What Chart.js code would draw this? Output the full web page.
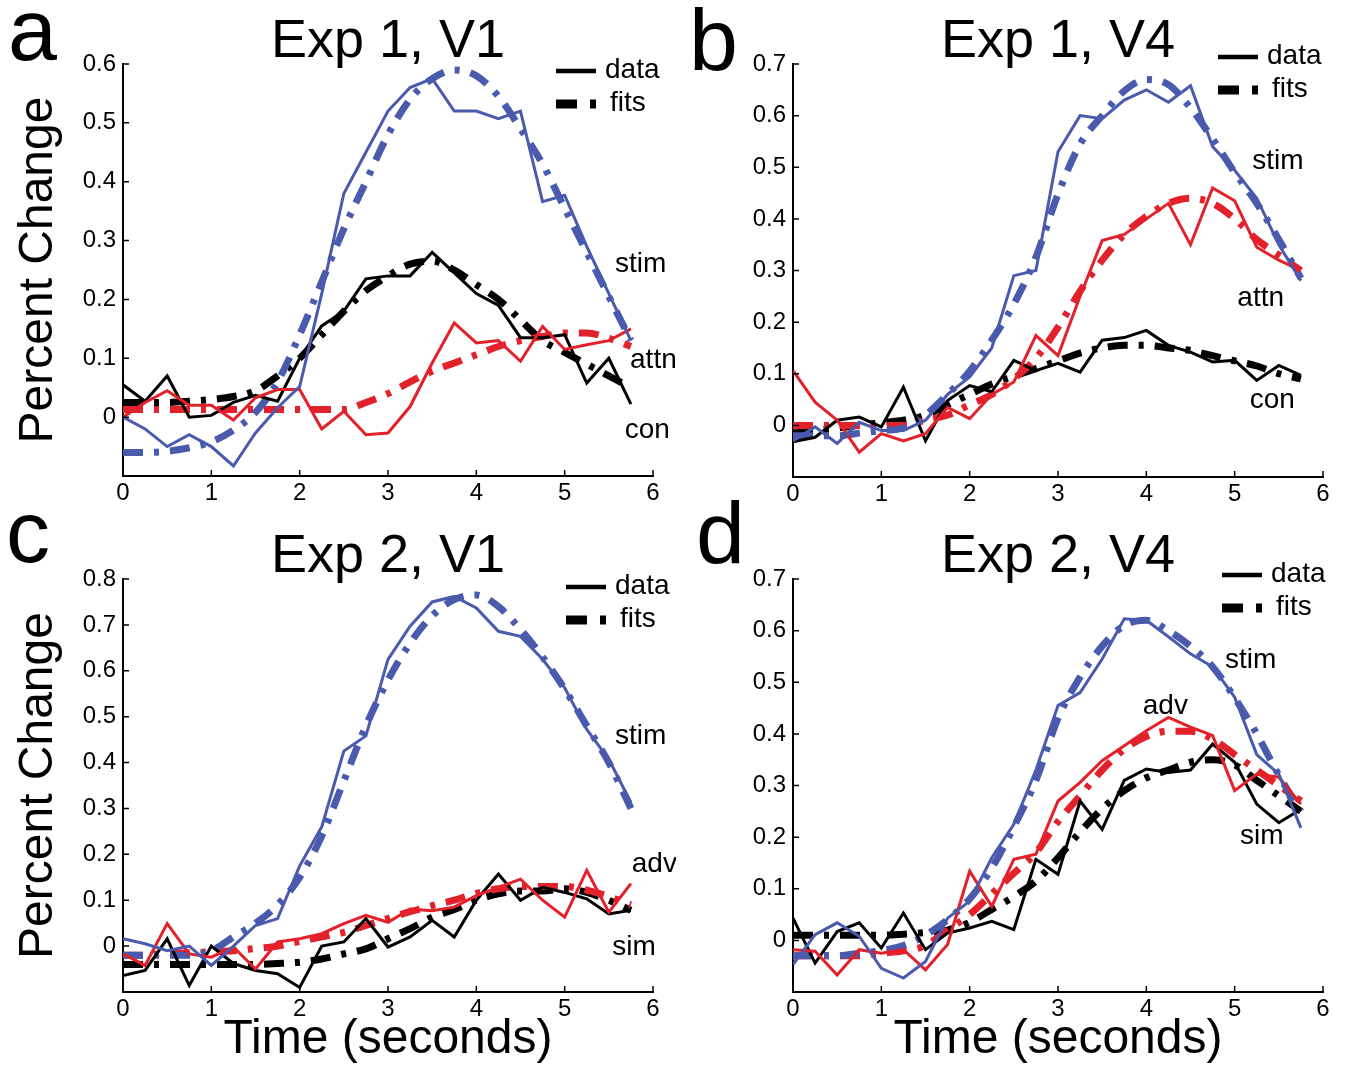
<!DOCTYPE html>
<html>
<head>
<meta charset="utf-8">
<script src="https://cdn.jsdelivr.net/npm/chart.js@4.4.1/dist/chart.umd.min.js"></script>
<style>
html,body{margin:0;padding:0;background:#ffffff;}
#wrap{position:relative;width:1352px;height:1070px;overflow:hidden;background:#ffffff;}
#wrap canvas{position:absolute;}
</style>
</head>
<body>
<div id="wrap">
<canvas id="pa" width="676" height="520" style="left:0px;top:0px"></canvas>
<canvas id="pb" width="676" height="520" style="left:676px;top:0px"></canvas>
<canvas id="pc" width="676" height="570" style="left:0px;top:500px"></canvas>
<canvas id="pd" width="676" height="570" style="left:676px;top:500px"></canvas>
</div>
<script>
// ---------- shared axis data ----------
const timeSec = [0,0.25,0.5,0.75,1,1.25,1.5,1.75,2,2.25,2.5,2.75,3,3.25,3.5,3.75,4,4.25,4.5,4.75,5,5.25,5.5,5.75];
const xTicks = [0,1,2,3,4,5,6];
const yTicksA = [0,0.1,0.2,0.3,0.4,0.5,0.6];
const yTicksB = [0,0.1,0.2,0.3,0.4,0.5,0.6,0.7];
const yTicksC = [0,0.1,0.2,0.3,0.4,0.5,0.6,0.7,0.8];
const yTicksD = [0,0.1,0.2,0.3,0.4,0.5,0.6,0.7];

// ---------- panel a: Exp 1, V1 ----------
const a_stimData = [0.0,-0.02,-0.05,-0.03,-0.05,-0.083,-0.027,0.016,0.052,0.21,0.38,0.45,0.52,0.56,0.575,0.52,0.52,0.507,0.52,0.366,0.377,0.29,0.21,0.13];
const a_stimFit  = [-0.06,-0.06,-0.058,-0.052,-0.042,-0.022,0.008,0.06,0.14,0.23,0.32,0.40,0.48,0.54,0.575,0.59,0.58,0.545,0.49,0.43,0.355,0.28,0.205,0.13];
const a_attnData = [0.0,0.025,0.045,0.02,0.02,-0.005,0.033,0.047,0.047,-0.02,0.01,-0.03,-0.027,0.018,0.092,0.16,0.126,0.13,0.095,0.154,0.115,0.123,0.13,0.15];
const a_attnFit  = [0.013,0.013,0.013,0.013,0.013,0.013,0.013,0.013,0.013,0.013,0.013,0.025,0.04,0.06,0.078,0.092,0.106,0.12,0.13,0.137,0.143,0.143,0.134,0.12];
const a_conData  = [0.055,0.027,0.07,0.0,0.003,0.025,0.037,0.027,0.1,0.155,0.18,0.235,0.24,0.24,0.28,0.245,0.21,0.19,0.135,0.135,0.14,0.058,0.1,0.022];
const a_conFit   = [0.025,0.025,0.025,0.027,0.03,0.035,0.045,0.07,0.1,0.14,0.18,0.215,0.24,0.26,0.265,0.25,0.225,0.2,0.165,0.13,0.11,0.09,0.07,0.05];

// ---------- panel b: Exp 1, V4 ----------
const b_stimData = [-0.03,-0.003,-0.035,0.006,-0.01,-0.01,0.01,0.06,0.094,0.15,0.29,0.3,0.53,0.6,0.594,0.63,0.65,0.626,0.658,0.54,0.494,0.44,0.35,0.28];
const b_stimFit  = [-0.02,-0.02,-0.02,-0.015,-0.01,-0.005,0.02,0.06,0.105,0.165,0.235,0.326,0.448,0.545,0.6,0.648,0.67,0.66,0.615,0.555,0.49,0.43,0.36,0.285];
const b_attnData = [0.106,0.045,0.01,-0.052,-0.016,-0.03,-0.016,0.035,0.013,0.06,0.084,0.174,0.135,0.25,0.358,0.37,0.4,0.43,0.35,0.46,0.435,0.345,0.32,0.3];
const b_attnFit  = [0.0,0.0,0.0,0.0,0.0,0.0,0.01,0.02,0.04,0.06,0.09,0.13,0.19,0.26,0.32,0.37,0.405,0.43,0.44,0.43,0.4,0.36,0.33,0.3];
const b_conData  = [-0.032,-0.023,0.01,0.016,-0.003,0.074,-0.03,0.048,0.077,0.065,0.126,0.106,0.12,0.103,0.165,0.17,0.184,0.155,0.142,0.123,0.126,0.087,0.116,0.097];
const b_conFit   = [-0.015,-0.01,-0.005,0.0,0.005,0.01,0.02,0.04,0.06,0.08,0.095,0.11,0.125,0.14,0.15,0.155,0.155,0.15,0.145,0.135,0.125,0.115,0.1,0.09];

// ---------- panel c: Exp 2, V1 ----------
const c_stimData = [0.016,0.005,-0.01,0.0,-0.042,0.0,0.045,0.06,0.175,0.26,0.425,0.458,0.625,0.697,0.75,0.762,0.737,0.686,0.675,0.625,0.563,0.472,0.407,0.313];
const c_stimFit  = [-0.02,-0.02,-0.02,-0.02,-0.01,0.02,0.05,0.09,0.15,0.24,0.36,0.48,0.58,0.66,0.72,0.755,0.765,0.74,0.69,0.63,0.56,0.48,0.4,0.3];
const c_advData  = [-0.017,-0.042,0.049,-0.017,-0.024,-0.002,-0.05,0.009,0.016,0.027,0.049,0.067,0.052,0.081,0.077,0.085,0.11,0.128,0.146,0.1,0.063,0.165,0.074,0.136];
const c_advFit   = [-0.02,-0.02,-0.015,-0.015,-0.012,-0.01,-0.005,0.0,0.01,0.02,0.03,0.045,0.06,0.075,0.088,0.1,0.115,0.125,0.13,0.13,0.13,0.122,0.108,0.09];
const c_simData  = [-0.064,-0.053,0.016,-0.086,0.0,-0.038,-0.053,-0.06,-0.09,0.0,0.009,0.06,-0.002,0.02,0.056,0.02,0.1,0.157,0.1,0.128,0.117,0.103,0.07,0.078];
const c_simFit   = [-0.04,-0.04,-0.04,-0.04,-0.04,-0.04,-0.04,-0.038,-0.035,-0.028,-0.017,-0.006,0.016,0.038,0.063,0.08,0.1,0.114,0.12,0.12,0.125,0.117,0.1,0.078];

// ---------- panel d: Exp 2, V4 ----------
const d_stimData = [-0.047,0.011,0.034,0.008,-0.054,-0.073,-0.041,0.043,0.076,0.16,0.225,0.33,0.455,0.48,0.545,0.623,0.62,0.588,0.555,0.53,0.471,0.36,0.322,0.218];
const d_stimFit  = [-0.03,-0.03,-0.03,-0.025,-0.02,-0.01,0.01,0.04,0.08,0.14,0.22,0.31,0.43,0.51,0.57,0.61,0.62,0.6,0.57,0.53,0.47,0.4,0.32,0.25];
const d_advData  = [-0.018,-0.021,-0.067,-0.018,-0.025,-0.018,-0.057,-0.008,0.134,0.066,0.157,0.167,0.27,0.306,0.348,0.377,0.406,0.432,0.413,0.397,0.29,0.322,0.316,0.264];
const d_advFit   = [-0.03,-0.03,-0.03,-0.03,-0.025,-0.02,-0.01,0.02,0.05,0.09,0.13,0.17,0.23,0.28,0.33,0.37,0.395,0.405,0.405,0.39,0.36,0.33,0.3,0.27];
const d_simData  = [0.043,-0.044,0.017,0.034,-0.015,0.053,-0.018,0.014,0.024,0.037,0.021,0.157,0.128,0.27,0.215,0.31,0.332,0.325,0.33,0.38,0.345,0.264,0.228,0.254];
const d_simFit   = [0.01,0.01,0.01,0.01,0.01,0.012,0.015,0.02,0.035,0.06,0.085,0.115,0.16,0.21,0.255,0.29,0.315,0.33,0.345,0.35,0.34,0.31,0.28,0.25];

// ---------- styles ----------
const FONT = "'Liberation Sans', Arial, Helvetica, sans-serif";
const BLUE = '#4a5aad';
const RED = '#e3212a';
const BLACK = '#000000';

function pts(arr) { return timeSec.map((t, i) => ({ x: t, y: arr[i] })); }

function dataSet(label, arr, color) {
  return { label: label, data: pts(arr), borderColor: color, borderWidth: 3,
           pointRadius: 0, tension: 0, fill: false, borderJoinStyle: 'miter' };
}
function fitSet(label, arr, color) {
  return { label: label, data: pts(arr), borderColor: color, borderWidth: 7,
           borderDash: [20, 11, 5, 11], borderCapStyle: 'butt', pointRadius: 0,
           cubicInterpolationMode: 'monotone', fill: false };
}

const decor = {
  id: 'decor',
  afterDraw(chart) {
    const c = chart.options.plugins.decor;
    const ctx = chart.ctx;
    const ca = chart.chartArea;
    const xs = chart.scales.x, ys = chart.scales.y;
    ctx.save();
    // inward tick marks
    ctx.strokeStyle = '#000'; ctx.lineWidth = 1.5;
    ctx.beginPath();
    xs.ticks.forEach(t => { const p = xs.getPixelForValue(t.value); ctx.moveTo(p, ca.bottom); ctx.lineTo(p, ca.bottom - 6); });
    ys.ticks.forEach(t => { const p = ys.getPixelForValue(t.value); ctx.moveTo(ca.left, p); ctx.lineTo(ca.left + 6, p); });
    ctx.stroke();
    ctx.fillStyle = '#000';
    // panel letter
    ctx.font = '88px ' + FONT; ctx.textAlign = 'left'; ctx.textBaseline = 'alphabetic';
    ctx.fillText(c.letter, c.letterX, c.letterY);
    // title
    ctx.font = '54px ' + FONT; ctx.textAlign = 'center';
    ctx.fillText(c.title, (ca.left + ca.right) / 2, c.titleY);
    // legend
    const lx = ca.right - c.legRight, y1 = ca.top + c.legTop, y2 = y1 + 33;
    ctx.lineWidth = 4.5; ctx.beginPath(); ctx.moveTo(lx, y1); ctx.lineTo(lx + 40, y1); ctx.stroke();
    ctx.fillRect(lx, y2 - 4.5, 21, 9);
    ctx.fillRect(lx + 34, y2 - 4.5, 6, 9);
    ctx.font = '28px ' + FONT; ctx.textAlign = 'left'; ctx.textBaseline = 'middle';
    ctx.fillText('data', lx + 49, y1 - 1);
    ctx.fillText('fits', lx + 54, y2 - 1);
    // curve labels
    c.labels.forEach(l => {
      ctx.fillText(l.text, xs.getPixelForValue(l.x), ys.getPixelForValue(l.y));
    });
    ctx.restore();
  }
};

function makePanel(id, cfg) {
  const yTickVals = cfg.yTicks;
  new Chart(document.getElementById(id), {
    type: 'line',
    data: { datasets: cfg.datasets },
    options: {
      responsive: false, animation: false, devicePixelRatio: 1,
      layout: { padding: { left: 0, right: cfg.padRight, top: cfg.padTop, bottom: 0 } },
      plugins: {
        legend: { display: false }, tooltip: { enabled: false }, title: { display: false },
        decor: cfg.decor
      },
      scales: {
        x: {
          type: 'linear', min: 0, max: 6,
          grid: { display: false, drawTicks: false },
          border: { display: true, color: '#000', width: 2 },
          afterBuildTicks: s => { s.ticks = xTicks.map(v => ({ value: v })); },
          ticks: { padding: 3, color: '#000', font: { family: FONT, size: 24 }, maxRotation: 0, autoSkip: false,
                   callback: v => String(v) },
          title: { display: cfg.xTitle, text: 'Time (seconds)', color: '#000',
                   font: { family: FONT, size: 48 }, padding: { top: 0, bottom: 1 } },
          afterFit: s => { s.height = cfg.xHeight; }
        },
        y: {
          type: 'linear', min: -0.1, max: cfg.yMax,
          grid: { display: false, drawTicks: false },
          border: { display: true, color: '#000', width: 2 },
          afterBuildTicks: s => { s.ticks = yTickVals.map(v => ({ value: v })); },
          ticks: { padding: 7, color: '#000', font: { family: FONT, size: 24 }, autoSkip: false,
                   callback: v => (Math.abs(v) < 1e-9 ? '0' : v.toFixed(1)) },
          title: { display: cfg.yTitle, text: 'Percent Change', color: '#000',
                   font: { family: FONT, size: 48 }, padding: { top: 10, bottom: 0 } },
          afterFit: s => { s.width = cfg.yWidth; }
        }
      }
    },
    plugins: [decor]
  });
}

makePanel('pa', {
  yMax: 0.6, yTicks: yTicksA, yTitle: true, xTitle: false,
  padRight: 23, padTop: 64, yWidth: 123, xHeight: 44,
  datasets: [
    dataSet('stim data', a_stimData, BLUE), dataSet('attn data', a_attnData, RED), dataSet('con data', a_conData, BLACK),
    fitSet('stim fit', a_stimFit, BLUE), fitSet('attn fit', a_attnFit, RED), fitSet('con fit', a_conFit, BLACK)
  ],
  decor: { letter: 'a', letterX: 8, letterY: 60, title: 'Exp 1, V1', titleY: 57, legRight: 97, legTop: 7,
           labels: [{ text: 'stim', x: 5.57, y: 0.259 }, { text: 'attn', x: 5.74, y: 0.097 }, { text: 'con', x: 5.68, y: -0.022 }] }
});

makePanel('pb', {
  yMax: 0.7, yTicks: yTicksB, yTitle: false, xTitle: false,
  padRight: 29, padTop: 64, yWidth: 117, xHeight: 43,
  datasets: [
    dataSet('stim data', b_stimData, BLUE), dataSet('attn data', b_attnData, RED), dataSet('con data', b_conData, BLACK),
    fitSet('stim fit', b_stimFit, BLUE), fitSet('attn fit', b_attnFit, RED), fitSet('con fit', b_conFit, BLACK)
  ],
  decor: { letter: 'b', letterX: 13, letterY: 70, title: 'Exp 1, V4', titleY: 57, legRight: 105, legTop: -7,
           labels: [{ text: 'stim', x: 5.2, y: 0.512 }, { text: 'attn', x: 5.03, y: 0.247 }, { text: 'con', x: 5.17, y: 0.049 }] }
});

makePanel('pc', {
  yMax: 0.8, yTicks: yTicksC, yTitle: true, xTitle: true,
  padRight: 23, padTop: 79, yWidth: 123, xHeight: 78,
  datasets: [
    dataSet('stim data', c_stimData, BLUE), dataSet('adv data', c_advData, RED), dataSet('sim data', c_simData, BLACK),
    fitSet('stim fit', c_stimFit, BLUE), fitSet('adv fit', c_advFit, RED), fitSet('sim fit', c_simFit, BLACK)
  ],
  decor: { letter: 'c', letterX: 6, letterY: 62, title: 'Exp 2, V1', titleY: 72, legRight: 87, legTop: 8,
           labels: [{ text: 'stim', x: 5.57, y: 0.458 }, { text: 'adv', x: 5.76, y: 0.179 }, { text: 'sim', x: 5.54, y: -0.002 }] }
});

makePanel('pd', {
  yMax: 0.7, yTicks: yTicksD, yTitle: false, xTitle: true,
  padRight: 29, padTop: 79, yWidth: 117, xHeight: 78,
  datasets: [
    dataSet('stim data', d_stimData, BLUE), dataSet('adv data', d_advData, RED), dataSet('sim data', d_simData, BLACK),
    fitSet('stim fit', d_stimFit, BLUE), fitSet('adv fit', d_advFit, RED), fitSet('sim fit', d_simFit, BLACK)
  ],
  decor: { letter: 'd', letterX: 20, letterY: 63, title: 'Exp 2, V4', titleY: 72, legRight: 101, legTop: -4,
           labels: [{ text: 'stim', x: 4.89, y: 0.543 }, { text: 'adv', x: 3.96, y: 0.454 }, { text: 'sim', x: 5.06, y: 0.202 }] }
});
</script>
</body>
</html>
